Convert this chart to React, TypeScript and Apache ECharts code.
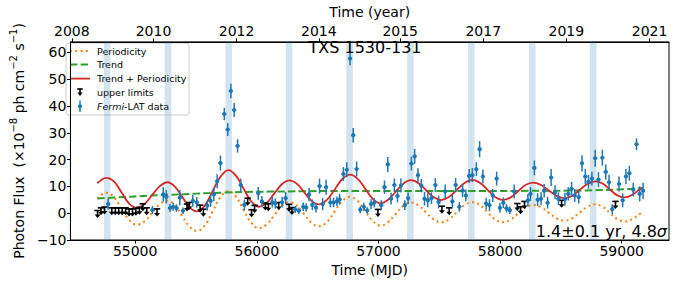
import React, { useEffect, useRef } from "react";
import * as echarts from "echarts";

// ---------- data ----------
const mjdTicks = [55000, 56000, 57000, 58000, 59000];
const yTicks = [-10, 0, 10, 20, 30, 40, 50, 60];
const yearTickMjd = [54479, 55151, 55834, 56510, 57179, 57862, 58545, 59229];
const yearTickLabels = ["2008", "2010", "2012", "2014", "2015", "2017", "2019", "2021"];

const bandStart = [54743, 55243, 55742, 56238, 56736, 57236, 57737, 58238, 58738];
const bandEnd = [54797, 55297, 55796, 56292, 56790, 57290, 57791, 58292, 58792];

const modelMjd = [54689, 54726, 54764, 54827, 54890, 54952, 55015, 55078, 55140, 55203,
  55265, 55326, 55387, 55447, 55508, 55573, 55637, 55702, 55767, 55830,
  55892, 55955, 56018, 56081, 56143, 56206, 56269, 56330, 56390, 56451,
  56512, 56576, 56640, 56703, 56767, 56830, 56892, 56955, 57017, 57080,
  57142, 57205, 57268, 57330, 57391, 57453, 57515, 57580, 57645, 57709,
  57774, 57836, 57897, 57959, 58021, 58084, 58146, 58209, 58272, 58337,
  58401, 58466, 58531, 58594, 58656, 58719, 58782, 58843, 58903, 58964,
  59024, 59087, 59149, 59174];
const periodicity = [5.4, 7.0, 7.6, 5.9, 1.6, -2.6, -4.3, -3.0, 0.2, 3.4,
  4.7, 3.0, -1.0, -5.0, -6.6, -4.5, 0.7, 6.0, 8.3, 6.1,
  1.2, -3.6, -5.6, -4.2, -0.8, 2.7, 4.1, 2.8, -0.4, -3.6,
  -4.9, -3.3, 0.6, 4.5, 6.1, 4.5, 0.8, -3.0, -4.6, -3.3,
  -0.3, 2.7, 4.0, 2.9, 0.3, -2.3, -3.4, -2.3, 0.4, 3.0,
  4.1, 3.0, 0.4, -2.3, -3.4, -2.5, -0.2, 2.2, 3.1, 2.2,
  0.2, -1.9, -2.8, -1.9, 0.3, 2.4, 3.3, 2.4, 0.1, -2.2,
  -3.1, -2.2, -0.3, 0.3];
const trendPlusPeriod = [11.1, 12.6, 13.2, 11.75, 7.6, 3.5, 2.0, 3.45, 6.8, 10.1,
  11.55, 9.95, 6.1, 2.2, 0.7, 2.9, 8.25, 13.65, 16.1, 13.9,
  9.1, 4.35, 2.4, 3.85, 7.3, 10.8, 12.25, 10.95, 7.8, 4.6,
  3.3, 4.95, 8.85, 12.75, 14.4, 12.8, 9.1, 5.3, 3.7, 5.0,
  8.0, 11.0, 12.3, 11.2, 8.6, 6.0, 4.9, 6.0, 8.7, 11.3,
  12.4, 11.3, 8.7, 6.0, 4.9, 5.8, 8.1, 10.5, 11.4, 10.5,
  8.5, 6.45, 5.6, 6.5, 8.75, 10.9, 11.9, 11.05, 8.85, 6.65,
  5.9, 6.9, 8.95, 9.6];

const trendMjd = [54689, 54900, 55100, 55300, 55500, 55700, 55900, 56100, 56400, 56800, 57300, 57800, 58300, 58700, 58950, 59174];
const trend = [5.5, 6.0, 6.5, 6.9, 7.3, 7.65, 7.9, 8.05, 8.2, 8.3, 8.3, 8.3, 8.35, 8.5, 8.8, 9.3];

const fermiMjd = [54778, 55142, 55231, 55256, 55286, 55312, 55340, 55367, 55393, 55474,
  55507, 55593, 55620, 55647, 55674, 55701, 55733, 55761, 55787, 55814,
  55842, 55868, 55898, 56012, 56042, 56127, 56152, 56208, 56237, 56317,
  56346, 56382, 56406, 56430, 56457, 56487, 56516, 56542, 56570, 56605,
  56631, 56659, 56681, 56712, 56740, 56767, 56793, 56821, 56851, 56880,
  56908, 56939, 56965, 57023, 57050, 57077, 57104, 57131, 57157, 57185,
  57217, 57244, 57271, 57298, 57325, 57352, 57379, 57406, 57436, 57468,
  57495, 57549, 57608, 57635, 57665, 57692, 57719, 57746, 57772, 57805,
  57832, 57859, 57886, 57913, 57940, 57972, 57999, 58027, 58053, 58080,
  58116, 58229, 58250, 58282, 58309, 58337, 58363, 58391, 58420, 58452,
  58480, 58533, 58561, 58588, 58614, 58647, 58674, 58701, 58727, 58755,
  58782, 58809, 58841, 58869, 58896, 58922, 58978, 59008, 59035, 59063,
  59095, 59122, 59148, 59176];
const fermiFlux = [3.4, 1.2, 7.0, 6.1, 1.9, 2.4, 1.9, 5.8, 0.9, 4.6,
  4.0, 2.8, 4.6, 7.0, 11.9, 18.7, 37.0, 31.2, 45.6, 38.5,
  25.1, 10.5, 3.1, 7.4, 4.4, 4.1, 3.6, 4.1, 5.6, 1.4,
  0.9, 2.4, 2.1, 7.0, 3.1, 2.1, 10.1, 3.4, 9.7, 4.0,
  4.0, 4.4, 5.2, 14.6, 16.2, 57.7, 29.1, 16.5, 1.3, 2.4,
  1.0, 3.4, 3.9, 3.0, 9.7, 18.2, 5.4, 10.5, 6.4, 10.3,
  3.0, 5.6, 18.5, 21.2, 14.2, 10.3, 5.4, 4.8, 5.6, 10.5,
  4.2, 8.1, 4.4, 10.5, 2.4, 8.4, 6.6, 13.9, 14.2, 16.4,
  23.9, 13.7, 3.6, 3.0, 6.6, 12.9, 2.0, 3.9, 1.8, 1.1,
  8.1, 4.8, 7.2, 16.9, 5.0, 5.4, 8.4, 3.9, 13.3, 7.8,
  5.4, 5.2, 7.2, 9.1, 6.6, 6.0, 18.6, 13.7, 11.7, 12.9,
  20.5, 12.5, 20.7, 15.4, 11.5, 1.5, 10.9, 4.8, 13.7, 14.9,
  8.8, 25.7, 7.2, 8.4];
const fermiErr = [2.0, 1.5, 2.7, 2.5, 1.5, 1.5, 1.4, 2.8, 1.2, 2.2,
  2.0, 1.8, 2.2, 2.5, 2.6, 2.8, 2.3, 2.4, 2.7, 2.6,
  2.5, 2.4, 2.0, 2.4, 2.0, 2.0, 1.9, 2.0, 2.3, 1.3,
  1.2, 1.6, 1.6, 2.5, 2.0, 1.8, 2.8, 2.2, 2.8, 1.8,
  1.8, 1.8, 2.0, 2.6, 2.8, 2.5, 2.7, 2.8, 1.3, 1.5,
  1.2, 1.8, 1.8, 1.8, 2.5, 2.8, 2.2, 2.5, 2.4, 2.6,
  1.8, 2.2, 2.6, 2.8, 2.6, 2.5, 2.5, 2.6, 2.2, 2.6,
  2.4, 2.6, 2.4, 2.6, 1.8, 2.4, 2.2, 2.6, 2.6, 2.6,
  3.0, 2.6, 2.2, 2.2, 2.4, 2.6, 1.8, 2.0, 1.6, 1.4,
  2.6, 2.4, 2.6, 2.8, 2.4, 2.4, 2.5, 2.2, 3.2, 2.6,
  2.4, 2.4, 2.5, 2.6, 2.4, 2.4, 3.0, 2.8, 2.6, 2.6,
  3.2, 2.8, 3.0, 2.8, 2.8, 1.8, 2.8, 2.6, 2.8, 2.8,
  2.6, 2.2, 2.8, 3.0];

const ulMjd = [54691, 54719, 54748, 54808, 54837, 54865, 54893, 54922, 54950, 54978, 55006, 55035, 55063, 55095, 55180, 55426, 55445, 55534, 55561, 55925, 55957, 55982, 56071, 56095, 56180, 56265, 56289, 56996, 57522, 57582, 58142, 58169, 58201, 58506, 58949];
const ulFlux = [1.0, 2.0, 2.3, 2.0, 2.0, 2.0, 2.0, 2.0, 1.6, 1.6, 1.8, 2.2, 3.5, 2.0, 1.6, 3.4, 4.0, 3.0, 1.5, 5.6, 1.3, 2.9, 3.8, 3.5, 4.0, 3.3, 2.1, 1.4, 2.6, 2.0, 3.6, 2.4, 4.4, 4.8, 4.4];

// ---------- layout / style ----------
const X_MIN = 54468;
const X_MAX = 59389;
const Y_MIN = -10;
const Y_MAX = 63.9;
const FONT = "DejaVu Sans";
const BLUE = "#1f77b4";

function App() {
  const ref = useRef<HTMLDivElement>(null);
  useEffect(() => {
    if (!ref.current) return;
    const chart = echarts.init(ref.current, null, { renderer: "svg" });

    const nearestYear = (v: number) => {
      let best = 0;
      for (let i = 1; i < yearTickMjd.length; i++) {
        if (Math.abs(yearTickMjd[i] - v) < Math.abs(yearTickMjd[best] - v)) best = i;
      }
      return yearTickLabels[best];
    };

    const tickStyle = { color: "#000", fontSize: 14, fontFamily: FONT };
    const axLine = { show: true, onZero: false, lineStyle: { color: "#000", width: 1 } };

    const option: any = {
      animation: false,
      grid: {
        left: 61, right: 7, top: 38, bottom: 42,
        show: true, borderColor: "#000", borderWidth: 1, backgroundColor: "transparent",
      },
      xAxis: [
        {
          type: "value", position: "bottom", min: X_MIN, max: X_MAX,
          axisLine: axLine,
          axisTick: { show: true, length: 3.5, lineStyle: { color: "#000" }, customValues: mjdTicks },
          axisLabel: { ...tickStyle, margin: 4, customValues: mjdTicks, formatter: (v: number) => String(v) },
          splitLine: { show: false },
          name: "Time (MJD)", nameLocation: "middle", nameGap: 20,
          nameTextStyle: { color: "#000", fontSize: 14, fontFamily: FONT },
        },
        {
          type: "value", position: "top", min: X_MIN, max: X_MAX,
          axisLine: axLine,
          axisTick: { show: true, length: 3.5, lineStyle: { color: "#000" }, customValues: yearTickMjd },
          axisLabel: { ...tickStyle, margin: 4, customValues: yearTickMjd, formatter: (v: number) => nearestYear(v) },
          splitLine: { show: false },
          name: "Time (year)", nameLocation: "middle", nameGap: 21,
          nameTextStyle: { color: "#000", fontSize: 14, fontFamily: FONT },
        },
      ],
      yAxis: {
        type: "value", min: Y_MIN, max: Y_MAX,
        axisLine: axLine,
        axisTick: { show: true, length: 3.5, lineStyle: { color: "#000" }, customValues: yTicks },
        axisLabel: {
          ...tickStyle, margin: 4, customValues: yTicks,
          formatter: (v: number) => (v < 0 ? "\u2212" + Math.abs(v) : String(v)),
        },
        splitLine: { show: false },
        name: "{a|Photon Flux  (\u00d710}{s|\u22128}{a| ph cm}{s|\u22122}{a| s}{s|\u22121}{a|)}",
        nameLocation: "middle", nameRotate: 90, nameGap: 43,
        nameTextStyle: {
          color: "#000", fontFamily: FONT,
          rich: {
            a: { fontSize: 14, fontFamily: FONT, color: "#000", lineHeight: 18, verticalAlign: "bottom" },
            s: { fontSize: 10, fontFamily: FONT, color: "#000", lineHeight: 18, verticalAlign: "top" },
          },
        },
      },
      series: [
        {
          type: "custom", name: "bands", z: 1, silent: true,
          data: bandStart.map((s, i) => [s, bandEnd[i], 0]),
          encode: { x: [0, 1], y: 2 },
          renderItem: (params: any, api: any) => {
            const s = api.coord([api.value(0), 0])[0];
            const e = api.coord([api.value(1), 0])[0];
            const cs = params.coordSys;
            return {
              type: "rect",
              shape: { x: s, y: cs.y, width: e - s, height: cs.height },
              style: { fill: "rgba(31,119,180,0.2)" },
            };
          },
        },
        {
          type: "line", name: "Periodicity", z: 2, smooth: 0.4, showSymbol: false, symbol: "none",
          data: modelMjd.map((t, i) => [t, periodicity[i]]),
          lineStyle: { color: "#ff7f0e", width: 2, type: [2, 3.3] },
        },
        {
          type: "line", name: "Trend", z: 2, smooth: 0.4, showSymbol: false, symbol: "none",
          data: trendMjd.map((t, i) => [t, trend[i]]),
          lineStyle: { color: "#2ca02c", width: 2, type: [7.4, 3.2] },
        },
        {
          type: "line", name: "Trend + Periodicity", z: 3, smooth: 0.4, showSymbol: false, symbol: "none",
          data: modelMjd.map((t, i) => [t, trendPlusPeriod[i]]),
          lineStyle: { color: "#d62728", width: 1.8 },
        },
        {
          type: "custom", name: "upper limits", z: 4, clip: true,
          data: ulMjd.map((t, i) => [t, ulFlux[i]]),
          encode: { x: 0, y: 1 },
          renderItem: (params: any, api: any) => {
            const c = api.coord([api.value(0), api.value(1)]);
            const x = c[0], y = c[1];
            return {
              type: "group",
              children: [
                { type: "line", shape: { x1: x - 3.2, y1: y, x2: x + 3.2, y2: y }, style: { stroke: "#000", lineWidth: 1.6 } },
                { type: "line", shape: { x1: x, y1: y, x2: x, y2: y + 5 }, style: { stroke: "#000", lineWidth: 1.6 } },
                { type: "polygon", shape: { points: [[x - 3, y + 4], [x + 3, y + 4], [x, y + 7.5]] }, style: { fill: "#000" } },
              ],
            };
          },
        },
        {
          type: "custom", name: "Fermi-LAT data", z: 5, clip: true,
          data: fermiMjd.map((t, i) => [t, fermiFlux[i], fermiErr[i]]),
          encode: { x: 0, y: 1 },
          renderItem: (params: any, api: any) => {
            const t = api.value(0), f = api.value(1), e = api.value(2);
            const c = api.coord([t, f]);
            const top = api.coord([t, f + e])[1];
            const bot = api.coord([t, f - e])[1];
            return {
              type: "group",
              children: [
                { type: "line", shape: { x1: c[0], y1: top, x2: c[0], y2: bot }, style: { stroke: BLUE, lineWidth: 1.5 } },
                { type: "line", shape: { x1: c[0] - 2, y1: c[1], x2: c[0] + 2, y2: c[1] }, style: { stroke: BLUE, lineWidth: 1.2 } },
                { type: "circle", shape: { cx: c[0], cy: c[1], r: 2.1 }, style: { fill: BLUE } },
              ],
            };
          },
        },
      ],
      graphic: [
        {
          type: "group", z: 100,
          children: [
            { type: "rect", shape: { x: 66, y: 43, width: 123, height: 72, r: 3 }, style: { fill: "rgba(255,255,255,0.8)", stroke: "#cccccc", lineWidth: 1 } },
            { type: "line", shape: { x1: 70, y1: 51, x2: 90, y2: 51 }, style: { stroke: "#ff7f0e", lineWidth: 2, lineDash: [2, 3.3] } },
            { type: "line", shape: { x1: 70, y1: 64.6, x2: 90, y2: 64.6 }, style: { stroke: "#2ca02c", lineWidth: 2, lineDash: [7.4, 3.2] } },
            { type: "line", shape: { x1: 70, y1: 78.6, x2: 90, y2: 78.6 }, style: { stroke: "#d62728", lineWidth: 1.8 } },
            { type: "line", shape: { x1: 77.2, y1: 89, x2: 82.8, y2: 89 }, style: { stroke: "#000", lineWidth: 1.6 } },
            { type: "line", shape: { x1: 80, y1: 89, x2: 80, y2: 93 }, style: { stroke: "#000", lineWidth: 1.6 } },
            { type: "polygon", shape: { points: [[77.4, 92.5], [82.6, 92.5], [80, 96]] }, style: { fill: "#000" } },
            { type: "line", shape: { x1: 80, y1: 100.5, x2: 80, y2: 112 }, style: { stroke: BLUE, lineWidth: 1.5 } },
            { type: "circle", shape: { cx: 80, cy: 106.3, r: 2.1 }, style: { fill: BLUE } },
            { type: "text", x: 97, y: 51, style: { text: "Periodicity", fontSize: 9.5, fontFamily: FONT, fill: "#000", verticalAlign: "middle" } },
            { type: "text", x: 97, y: 64.6, style: { text: "Trend", fontSize: 9.5, fontFamily: FONT, fill: "#000", verticalAlign: "middle" } },
            { type: "text", x: 97, y: 78.6, style: { text: "Trend + Periodicity", fontSize: 9.5, fontFamily: FONT, fill: "#000", verticalAlign: "middle" } },
            { type: "text", x: 97, y: 92.4, style: { text: "upper limits", fontSize: 9.5, fontFamily: FONT, fill: "#000", verticalAlign: "middle" } },
            {
              type: "text", x: 97, y: 106.3,
              style: {
                text: "{i|Fermi}{n|-LAT data}", verticalAlign: "middle", fontSize: 9.5, fontFamily: FONT,
                rich: {
                  i: { fontSize: 9.5, fontFamily: FONT, fontStyle: "italic", fill: "#000" },
                  n: { fontSize: 9.5, fontFamily: FONT, fill: "#000" },
                },
              },
            },
          ],
        },
        {
          type: "text", z: 100, x: 365, y: 47,
          style: { text: "TXS 1530-131", fontSize: 16, fontFamily: FONT, fill: "#000", align: "center", verticalAlign: "middle" },
        },
        {
          type: "text", z: 100, x: 667, y: 231,
          style: {
            text: "{n|1.4\u00b10.1 yr, 4.8}{i|\u03c3}", align: "right", verticalAlign: "middle", fontSize: 16, fontFamily: FONT,
            rich: {
              n: { fontSize: 16, fontFamily: FONT, fill: "#000" },
              i: { fontSize: 16, fontFamily: FONT, fontStyle: "italic", fill: "#000" },
            },
          },
        },
      ],
    };

    chart.setOption(option);
    return () => chart.dispose();
  }, []);

  return (
    <div
      ref={ref}
      style={{ position: "absolute", left: 0, top: 0, width: 676, height: 282, background: "#fff" }}
    />
  );
}

export default App;
